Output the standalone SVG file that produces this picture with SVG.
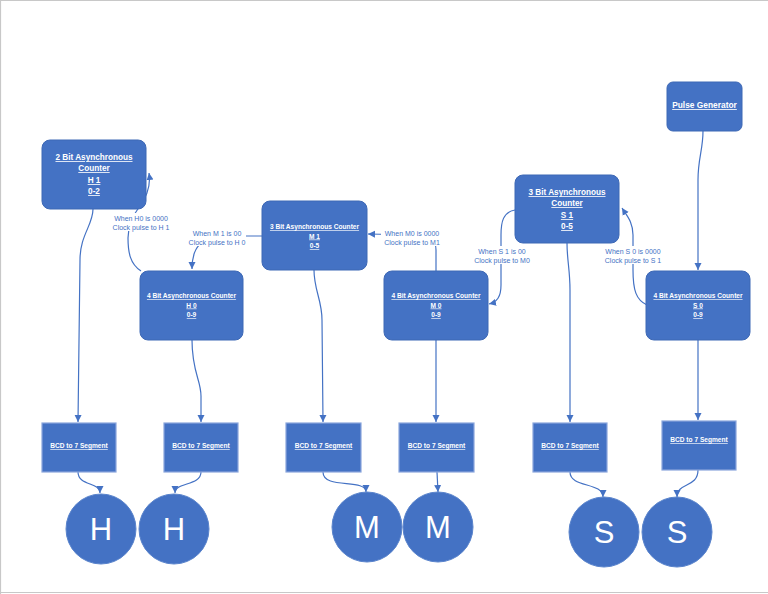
<svg xmlns="http://www.w3.org/2000/svg" width="768" height="594" viewBox="0 0 768 594">
<style>
.box{fill:#4472C4;stroke:#3d68b5;stroke-width:1}
.bcd{fill:#4472C4;stroke:#8aa6dc;stroke-width:1.2}
.disp{fill:#4472C4;stroke:#5a84cc;stroke-width:1}
.t{font-family:"Liberation Sans",Arial,sans-serif;font-weight:bold;fill:#ffffff;text-anchor:middle;text-decoration:underline}
.big{font-family:"Liberation Sans",Arial,sans-serif;fill:#ffffff;text-anchor:middle;font-size:31px}
.lbl{font-family:"Liberation Sans",Arial,sans-serif;fill:#4472C4;text-anchor:middle;font-size:7px}
.bg{fill:#ffffff}
.c{fill:none;stroke:#4472C4;stroke-width:1.2;marker-end:url(#ah)}
</style>
<defs>
<marker id="ah" markerUnits="userSpaceOnUse" markerWidth="8" markerHeight="8" refX="7" refY="4" orient="auto">
<path d="M0,0.5 L7,4 L0,7.5 Z" fill="#4472C4"/>
</marker>
</defs>
<rect x="0" y="0" width="768" height="594" fill="#ffffff"/>
<path d="M0.5,594 V0.5 H768 M0,592.5 H768" fill="none" stroke="#c8c8c8" stroke-width="1.2"/>

<g id="connectors">
<path class="c" d="M703,131 C703,150 698,158 698,180 L698,270"/>
<path class="c" d="M647,305 C636,300 633,290 633,270 L633,235 C633,222 627,216 622,208"/>
<path class="c" d="M515,210 C503,212 501,222 501,235 L501,285 C501,297 497,302 489,304"/>
<path class="c" d="M436,271 L436,250 C436,240 430,235 418,235 L368,234"/>
<path class="c" d="M262,236 L228,236 C200,236 192,248 192,269"/>
<path class="c" d="M141,271 C130,264 128,252 128,238 L129,228 C131,210 153,200 149,173"/>
<path class="c" d="M93,209 C93,225 80,235 80,260 L78,422"/>
<path class="c" d="M192,340 C192,372 201,380 201,396 L201,422"/>
<path class="c" d="M314,270 C314,290 322,300 322,320 L323,422"/>
<path class="c" d="M436,340 L436,422"/>
<path class="c" d="M567,243 C567,260 570,270 570,290 L570,422"/>
<path class="c" d="M698,340 L698,420"/>
<path class="c" d="M78,472 C78,486 100,482 100,493"/>
<path class="c" d="M201,472 C201,486 175,482 175,493"/>
<path class="c" d="M323,472 C323,490 366,478 366,492"/>
<path class="c" d="M437,472 L438,492"/>
<path class="c" d="M570,472 C570,488 603,482 603,497"/>
<path class="c" d="M698,470 C698,488 677,482 677,497"/>
</g>

<g id="label-h0">
<rect class="bg" x="111" y="213" width="60" height="18"/>
<text class="lbl" x="141" y="221">When H0 is 0000</text>
<text class="lbl" x="141" y="230">Clock pulse to H 1</text>
</g>
<g id="label-m1">
<rect class="bg" x="188" y="228" width="58" height="18"/>
<text class="lbl" x="217" y="236">When M 1 is 00</text>
<text class="lbl" x="217" y="245">Clock pulse to H 0</text>
</g>
<g id="label-m0">
<rect class="bg" x="381" y="228" width="62" height="18"/>
<text class="lbl" x="412" y="236">When M0 is 0000</text>
<text class="lbl" x="412" y="245">Clock pulse to M1</text>
</g>
<g id="label-s1">
<rect class="bg" x="472" y="246" width="60" height="18"/>
<text class="lbl" x="502" y="254">When S 1 is 00</text>
<text class="lbl" x="502" y="263">Clock pulse to M0</text>
</g>
<g id="label-s0">
<rect class="bg" x="603" y="246" width="62" height="18"/>
<text class="lbl" x="633" y="254">When S 0 is 0000</text>
<text class="lbl" x="633" y="263">Clock pulse to S 1</text>
</g>

<g id="pulse-generator">
<rect class="box" x="667" y="82" width="75" height="49" rx="6"/>
<text class="t" x="704.5" y="108" font-size="8.4">Pulse Generator</text>
</g>

<g id="counter-h1">
<rect class="box" x="42" y="140" width="104" height="69" rx="8"/>
<text class="t" x="94" y="160" font-size="8.2">2 Bit Asynchronous</text>
<text class="t" x="94" y="171" font-size="8.2">Counter</text>
<text class="t" x="94" y="183" font-size="8.2">H 1</text>
<text class="t" x="94" y="194" font-size="8.2">0-2</text>
</g>
<g id="counter-h0">
<rect class="box" x="140" y="271" width="103" height="69" rx="8"/>
<text class="t" x="191.5" y="298" font-size="6.6">4 Bit Asynchronous Counter</text>
<text class="t" x="191.5" y="307.5" font-size="6.6">H 0</text>
<text class="t" x="191.5" y="317" font-size="6.6">0-9</text>
</g>
<g id="counter-m1">
<rect class="box" x="262" y="201" width="105" height="69" rx="8"/>
<text class="t" x="314.5" y="229" font-size="6.6">3 Bit Asynchronous Counter</text>
<text class="t" x="314.5" y="238.5" font-size="6.6">M 1</text>
<text class="t" x="314.5" y="248" font-size="6.6">0-5</text>
</g>
<g id="counter-m0">
<rect class="box" x="384" y="271" width="104" height="69" rx="8"/>
<text class="t" x="436" y="298" font-size="6.6">4 Bit Asynchronous Counter</text>
<text class="t" x="436" y="307.5" font-size="6.6">M 0</text>
<text class="t" x="436" y="317" font-size="6.6">0-9</text>
</g>
<g id="counter-s1">
<rect class="box" x="515" y="175" width="104" height="68" rx="8"/>
<text class="t" x="567" y="195" font-size="8.2">3 Bit Asynchronous</text>
<text class="t" x="567" y="206" font-size="8.2">Counter</text>
<text class="t" x="567" y="218" font-size="8.2">S 1</text>
<text class="t" x="567" y="229" font-size="8.2">0-5</text>
</g>
<g id="counter-s0">
<rect class="box" x="646" y="271" width="104" height="69" rx="8"/>
<text class="t" x="698" y="298" font-size="6.6">4 Bit Asynchronous Counter</text>
<text class="t" x="698" y="307.5" font-size="6.6">S 0</text>
<text class="t" x="698" y="317" font-size="6.6">0-9</text>
</g>

<g id="bcd-1"><rect class="bcd" x="42" y="423" width="74" height="49"/><text class="t" x="79" y="448" font-size="6.6">BCD to 7 Segment</text></g>
<g id="bcd-2"><rect class="bcd" x="164" y="423" width="74" height="49"/><text class="t" x="201" y="448" font-size="6.6">BCD to 7 Segment</text></g>
<g id="bcd-3"><rect class="bcd" x="286" y="423" width="75" height="49"/><text class="t" x="323.5" y="448" font-size="6.6">BCD to 7 Segment</text></g>
<g id="bcd-4"><rect class="bcd" x="399" y="423" width="75" height="49"/><text class="t" x="436.5" y="448" font-size="6.6">BCD to 7 Segment</text></g>
<g id="bcd-5"><rect class="bcd" x="533" y="423" width="74" height="49"/><text class="t" x="570" y="448" font-size="6.6">BCD to 7 Segment</text></g>
<g id="bcd-6"><rect class="bcd" x="662" y="421" width="74" height="49"/><text class="t" x="699" y="442" font-size="6.6">BCD to 7 Segment</text></g>

<g id="display-h1"><circle class="disp" cx="101" cy="529" r="35"/><text class="big" x="101" y="540">H</text></g>
<g id="display-h2"><circle class="disp" cx="174" cy="529" r="35"/><text class="big" x="174" y="540">H</text></g>
<g id="display-m1"><circle class="disp" cx="367" cy="527" r="35"/><text class="big" x="367" y="538">M</text></g>
<g id="display-m2"><circle class="disp" cx="438" cy="527" r="35"/><text class="big" x="438" y="538">M</text></g>
<g id="display-s1"><circle class="disp" cx="604" cy="532" r="35"/><text class="big" x="604" y="543">S</text></g>
<g id="display-s2"><circle class="disp" cx="677" cy="532" r="35"/><text class="big" x="677" y="543">S</text></g>
</svg>
